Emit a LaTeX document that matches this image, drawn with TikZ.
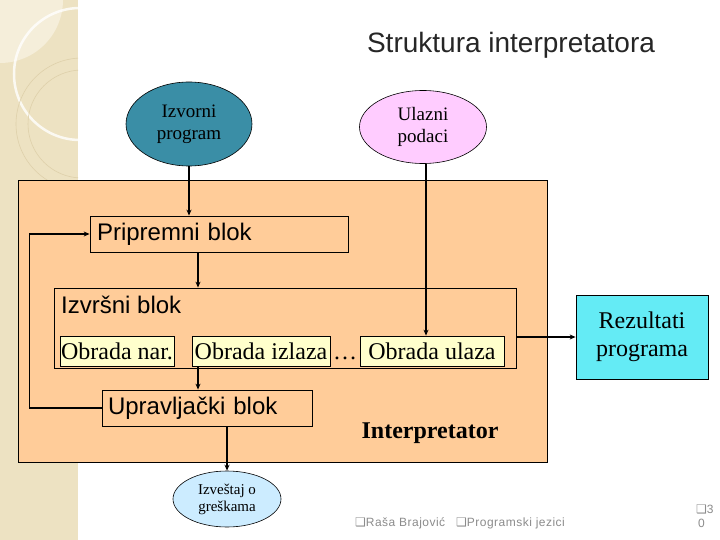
\documentclass[tikz,border=0pt]{standalone}
\usepackage{fontspec}
\setmainfont{Liberation Serif}
\setsansfont{Liberation Sans}
\newfontfamily\symfont{DejaVu Sans}
\newfontfamily\footfont[LetterSpace=4]{Liberation Sans}
\usetikzlibrary{shapes.geometric,arrows.meta}
\definecolor{strip}{RGB}{237,226,194}
\definecolor{stripl}{RGB}{245,238,218}
\definecolor{stripr}{RGB}{222,208,170}
\definecolor{orng}{RGB}{255,204,153}
\definecolor{teal}{RGB}{58,142,166}
\definecolor{pink}{RGB}{255,204,255}
\definecolor{cyanb}{RGB}{100,235,245}
\definecolor{lblue}{RGB}{204,236,255}
\definecolor{lyel}{RGB}{255,255,204}
\definecolor{footg}{RGB}{140,140,140}
\tikzset{
  blk/.style={draw=black, line width=0.8pt, rectangle, inner sep=0pt},
  oval/.style={draw=black, line width=0.6pt, ellipse, inner sep=0pt, align=center},
  arr/.style={line width=1.4pt, -{Stealth[length=6pt,width=5pt]}},
  sansL/.style={font=\sffamily\fontsize{24}{28}\selectfont},
  serL/.style={font=\rmfamily\fontsize{24}{28}\selectfont},
}
\begin{document}
\begin{tikzpicture}[x=1pt,y=-1pt]
\useasboundingbox (0,0) rectangle (720,540);
\fill[white] (0,0) rectangle (720,540);
% decorative strip
\begin{scope}
\clip (0,0) rectangle (78,540);
\fill[strip] (0,0) rectangle (78,540);
\fill[stripl] (0,0) circle (63);
\draw[white, line width=2.5pt, opacity=0.8] (80,74) circle (66);
\draw[stripr, line width=0.6pt] (82,124) circle (66);
\draw[stripr, line width=0.6pt] (82,124) circle (54);
\end{scope}
% title
\node[font=\sffamily\fontsize{28}{32}\selectfont, text=black!85] (title) at (511,45) {Struktura interpretatora};
% interpreter frame
\node[blk, fill=orng, minimum width=529pt, minimum height=282pt] (frame) at (282.5,321) {};
\node[font=\rmfamily\bfseries\fontsize{24}{28}\selectfont] (interp) at (430,433) {Interpretator};
% ellipses
\node[oval, fill=teal, minimum width=126pt, minimum height=84pt, font=\rmfamily\fontsize{19}{22}\selectfont] (izv) at (189,124) {Izvorni\\program};
\node[oval, fill=pink, minimum width=127pt, minimum height=73pt, font=\rmfamily\fontsize{19}{22}\selectfont] (ul) at (423,127) {Ulazni\\podaci};
\node[oval, fill=lblue, minimum width=108pt, minimum height=56pt, font=\rmfamily\fontsize{15}{17}\selectfont] (izvj) at (227,499) {Izveštaj o\\greškama};
% blocks
\node[blk, sansL, minimum width=258pt, minimum height=36pt, text width=244pt, inner xsep=7pt, align=left] (prip) at (219,234) {Pripremni blok};
\node[blk, minimum width=462pt, minimum height=80pt] (izvr) at (285,328) {};
\node[sansL, anchor=north west, inner sep=0pt] (izvrt) at (61,296) {Izvršni blok};
\node[blk, fill=lyel, serL, minimum width=114pt, minimum height=30pt] (nar) at (117,351) {Obrada nar.};
\node[blk, fill=lyel, serL, minimum width=138pt, minimum height=30pt] (izl) at (261,351) {Obrada izlaza};
\node[serL, inner sep=0pt, anchor=base] (dots) at (izl.base -| 345,0) {\dots};
\node[blk, fill=lyel, serL, minimum width=144pt, minimum height=30pt] (ulz) at (432,351) {Obrada ulaza};
\node[blk, sansL, minimum width=210pt, minimum height=36pt, text width=198pt, inner xsep=6pt, align=left] (upr) at (207,408) {Upravljački blok};
\node[blk, fill=cyanb, serL, minimum width=132pt, minimum height=84pt, align=center] (rez) at (642,337) {Rezultati\\programa};
% connectors
\coordinate (colA) at (198,300);
\draw[arr] (izv.south) -- (izv.south |- prip.north);
\draw[arr] (prip.south -| colA) -- (izvr.north -| colA);
\draw[arr] ([xshift=3pt]ul.south) -- ([xshift=3pt]ul.south |- ulz.north);
\draw[arr] (izl.south -| colA) -- (upr.north -| colA);
\draw[arr] (upr.west) -- ++(-72,0) |- (prip.west);
\draw[arr] (izvj.north |- upr.south) -- (izvj.north);
\draw[arr] (rez.west -| izvr.east) -- (rez.west);
% footer
\node[anchor=base west, inner sep=0pt, text=footg, font=\fontsize{12}{14}\selectfont] (f1) at (355,526) {{\symfont ❑}\footfont Raša Brajović};
\node[anchor=base west, inner sep=0pt, text=footg, font=\fontsize{12}{14}\selectfont] (f2) at (456,526) {{\symfont ❑}\footfont Programski jezici};
\node[anchor=base west, inner sep=0pt, text=footg, font=\fontsize{12}{14}\selectfont] (f3) at (696,513) {{\symfont ❑}\footfont 3};
\node[anchor=base west, inner sep=0pt, text=footg, font=\fontsize{12}{14}\selectfont] (f4) at (698,527) {\footfont 0};
\end{tikzpicture}
\end{document}
